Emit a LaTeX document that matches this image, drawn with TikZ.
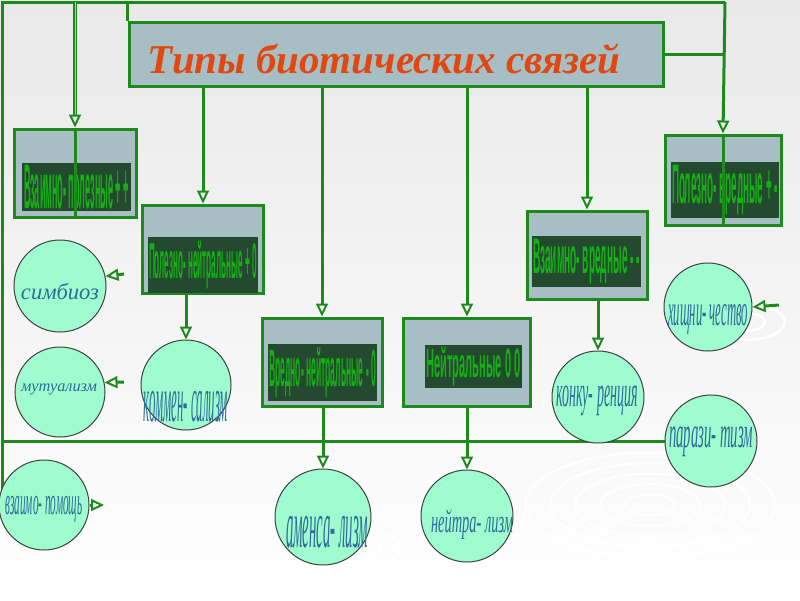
\documentclass[tikz,border=0pt]{standalone}
\usepackage{graphicx}
\usepackage{fontspec}
\setmainfont{Liberation Serif}
\setsansfont{Liberation Sans}
\usetikzlibrary{arrows.meta}
\pgfdeclarelayer{bg}
\pgfdeclarelayer{edges}
\pgfsetlayers{bg,edges,main}
\definecolor{lineg}{HTML}{1E8A1E}
\definecolor{boxfill}{HTML}{A8BEC5}
\definecolor{darkfill}{HTML}{23492E}
\definecolor{textg}{HTML}{16B016}
\definecolor{mint}{HTML}{9EFCCF}
\definecolor{ctext}{HTML}{2F6C9A}
\definecolor{titlec}{HTML}{E0480F}
\definecolor{bgtop}{HTML}{E9E9E9}
\newcommand{\boxtxt}[3]{\resizebox*{#1pt}{#2pt}{\sffamily\bfseries #3}}
\newcommand{\circtxt}[3]{\resizebox*{#1pt}{#2pt}{\itshape #3}}
\begin{document}
\begin{tikzpicture}[x=1pt, y=-1pt,
    conn/.style={draw=lineg, line width=3pt},
    arr/.style={conn, -{Triangle[open, length=13pt, width=12pt, line width=2pt]}},
    typebox/.style={draw=lineg, line width=3pt, fill=boxfill},
    innerbox/.style={fill=darkfill, inner sep=0pt, text=textg},
    kind/.style={circle, draw=black!75, line width=1pt, fill=mint, inner sep=0pt},
    kindtext/.style={text=ctext, inner sep=0pt},
    ripple/.style={draw=white, line width=2.5pt}]
  \useasboundingbox (0,0) rectangle (800,600);
  \begin{pgfonlayer}{bg}
    \fill[top color=bgtop, bottom color=white] (0,0) rectangle (800,600);
    \foreach \r in {25,50,75,100,125}
      \draw[ripple] (650,505) ellipse ({\r} and {0.42*\r});
    \foreach \r in {20,40,60}
      \draw[ripple] (340,548) ellipse ({\r} and {0.4*\r});
    \foreach \r in {20,40}
      \draw[ripple] (745,322) ellipse ({\r} and {0.45*\r});
  \end{pgfonlayer}

  \node[typebox, minimum width=534pt, minimum height=64pt] (title) at (396,54) {};
  \node[typebox, minimum width=122pt, minimum height=88pt] (vzpol) at (75,173) {};
  \node[typebox, minimum width=121pt, minimum height=88pt] (polneit) at (203,249) {};
  \node[typebox, minimum width=120pt, minimum height=88pt] (vredneit) at (322,362) {};
  \node[typebox, minimum width=127pt, minimum height=88pt] (neitr) at (467,362) {};
  \node[typebox, minimum width=120pt, minimum height=88pt] (vzvred) at (587,255) {};
  \node[typebox, minimum width=116pt, minimum height=90pt] (polvred) at (723,180) {};

  \node[innerbox, minimum width=109pt, minimum height=48pt] (vzpol-in) at (76.5,187) {\boxtxt{105}{44}{Взаимно- полезные + +}};
  \node[innerbox, minimum width=110pt, minimum height=56pt] (polneit-in) at (203,265) {\boxtxt{108}{48}{Полезно- нейтральные + 0}};
  \node[innerbox, minimum width=109pt, minimum height=57pt] (vredneit-in) at (322.5,372.5) {\boxtxt{107}{50}{Вредно- нейтральные - 0}};
  \node[innerbox, minimum width=97pt, minimum height=43pt] (neitr-in) at (473.5,366.5) {\boxtxt{94}{39}{Нейтральные 0 0}};
  \node[innerbox, minimum width=109pt, minimum height=51pt] (vzvred-in) at (586.5,261.5) {\boxtxt{107}{45}{Взаимно- вредные - -}};
  \node[innerbox, minimum width=108pt, minimum height=56pt] (polvred-in) at (725,190) {\boxtxt{106}{50}{Полезно- вредные + -}};

  \node[text=titlec, inner sep=0pt] (title-lbl) at (384,59)
    {\resizebox{472pt}{!}{\fontsize{36}{40}\selectfont\bfseries\itshape Типы биотических связей}};

  \coordinate (tl) at (2,2);
  \coordinate (tr) at (725,2);
  \coordinate (simb-in) at (124,274);
  \coordinate (mutu-in) at (124,382);
  \coordinate (vzpom-out) at (104,505);
  \coordinate (hishn-in) at (779,305);

  \node[kind, minimum size=92pt] (simbioz) at (60,286) {};
  \node[kind, minimum size=90pt] (mutual) at (60,392) {};
  \node[kind, minimum size=90pt] (vzpom) at (44,505) {};
  \node[kind, minimum size=90pt] (kommens) at (186,385) {};
  \node[kind, minimum size=96pt] (amens) at (323,517) {};
  \node[kind, minimum size=92pt] (neitral) at (467,516) {};
  \node[kind, minimum size=92pt] (konkur) at (598,397) {};
  \node[kind, minimum size=88pt] (hishn) at (708,307) {};
  \node[kind, minimum size=92pt] (parazit) at (711,441) {};

  \node[kindtext] (simbioz-lbl) at (60,292) {\resizebox{78pt}{!}{\fontsize{28}{30}\selectfont\itshape симбиоз}};
  \node[kindtext] (mutual-lbl) at (59,389) {\resizebox{76pt}{!}{\fontsize{20}{22}\selectfont\itshape мутуализм}};
  \node[kindtext] (kommens-lbl) at (186,407) {\circtxt{84}{31}{коммен- сализм}};
  \node[kindtext] (vzpom-lbl) at (44,509) {\circtxt{77}{26}{взаимо- помощь}};
  \node[kindtext] (amens-lbl) at (327,532) {\circtxt{82}{32}{аменса- лизм}};
  \node[kindtext] (neitral-lbl) at (472,524) {\circtxt{82}{30}{нейтра- лизм}};
  \node[kindtext] (konkur-lbl) at (597,401) {\circtxt{82}{30}{конку- ренция}};
  \node[kindtext] (hishn-lbl) at (708,319) {\circtxt{80}{30}{хищни- чество}};
  \node[kindtext] (parazit-lbl) at (711,442) {\circtxt{84}{30}{парази- тизм}};

  \begin{pgfonlayer}{edges}
    \draw[conn] (vzpom.west) -- (vzpom.west -| tl) -- (tl) -- (tr);
    \draw[conn] (title.east) -- (title.east -| tr);
    \draw[conn] (title.north west) -- (title.north west |- tl);
    \draw[conn] (parazit.west -| tl) -- (parazit.west);
    \draw[arr] (title.south -| polneit.north) -- (polneit.north);
    \draw[arr] (title.south -| vredneit.north) -- (vredneit.north);
    \draw[arr] (title.south -| neitr.north) -- (neitr.north);
    \draw[arr] (title.south -| vzvred.north) -- (vzvred.north);
    \draw[arr] (kommens.north |- polneit.south) -- (kommens.north);
    \draw[arr] (amens.north |- vredneit.south) -- (amens.north);
    \draw[arr] (neitral.north |- neitr.south) -- (neitral.north);
    \draw[arr] (konkur.north |- vzvred.south) -- (konkur.north);
  \end{pgfonlayer}
  \draw[arr] (tr) -- (polvred.north);
  \draw[conn] (polvred.north) -- (polvred.south);
  \draw[arr, double=lineg!40, double distance=1pt, line width=1.4pt] (vzpol.north |- tl) -- (vzpol.north);
  \draw[conn] (vzpol.north) -- (vzpol.south);
  \draw[arr] (simb-in) -- (simbioz.12);
  \draw[arr] (mutu-in) -- (mutual.12);
  \draw[arr] (vzpom.east) -- (vzpom-out);
  \draw[arr] (hishn-in) -- (hishn.east);
\end{tikzpicture}
\end{document}
